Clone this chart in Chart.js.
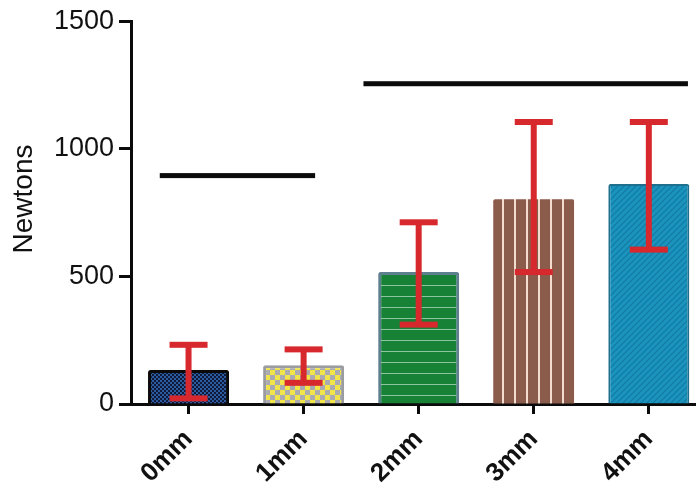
<!DOCTYPE html>
<html>
<head>
<meta charset="utf-8">
<script src="https://cdn.jsdelivr.net/npm/chart.js@4/dist/chart.umd.min.js"></script>
<style>
html,body{margin:0;padding:0;background:#fff;overflow:hidden;}
#wrap{width:696px;height:495px;position:relative;}
</style>
</head>
<body>
<div id="wrap"><canvas id="c"></canvas></div>
<script>
// ---- data ----
const categories = ['0mm', '1mm', '2mm', '3mm', '4mm'];
const meanValues = [133, 152, 517, 802, 862];
const errorLow   = [22, 83, 311, 517, 605];
const errorHigh  = [232, 214, 712, 1105, 1105];
const yTicks     = [0, 500, 1000, 1500];
const yTitle     = 'Newtons';
// significance lines: [from category, to category, height]
const sigFrom    = [-0.25, 1.52];
const sigTo      = [1.10, 4.34];
const sigHeight  = [895, 1255];

// ---- patterns ----
function makePattern(w, h, draw) {
  const c = document.createElement('canvas');
  c.width = w; c.height = h;
  const g = c.getContext('2d');
  draw(g, w, h);
  return g.createPattern(c, 'repeat');
}
const pat0 = makePattern(4, 4, (g) => {
  g.fillStyle = '#0e1a3c'; g.fillRect(0, 0, 4, 4);
  g.fillStyle = '#2c5c9e'; g.fillRect(0, 0, 2, 2); g.fillRect(2, 2, 2, 2);
});
const pat1 = makePattern(10, 10, (g) => {
  g.fillStyle = '#a9abb0'; g.fillRect(0, 0, 10, 10);
  g.fillStyle = '#f1e54a'; g.fillRect(0, 0, 5, 5); g.fillRect(5, 5, 5, 5);
});
const pat2 = makePattern(8, 11, (g) => {
  g.fillStyle = '#178236'; g.fillRect(0, 0, 8, 11);
  g.fillStyle = '#8fc4a0'; g.fillRect(0, 10, 8, 1);
});
const pat3 = makePattern(12, 8, (g) => {
  g.fillStyle = '#8b5b4b'; g.fillRect(0, 0, 12, 8);
  g.fillStyle = '#f3dccd'; g.fillRect(10, 0, 2, 8);
});
const pat4 = makePattern(6, 6, (g) => {
  g.fillStyle = '#1a93bd'; g.fillRect(0, 0, 6, 6);
  g.strokeStyle = '#137aa2'; g.lineWidth = 1.2;
  g.beginPath();
  g.moveTo(0, 6); g.lineTo(6, 0);
  g.moveTo(-3, 3); g.lineTo(3, -3);
  g.moveTo(3, 9); g.lineTo(9, 3);
  g.stroke();
});

const barFills   = [pat0, pat1, pat2, pat3, pat4];
const barBorders = ['#0a0a0a', '#9a9ca0', '#5d7f8e', '#8b5b4b', '#1f6f8f'];
const barBorderW = [3, 3, 3, 0, 2];

// ---- plugins ----
const overlayPlugin = {
  id: 'overlay',
  afterDatasetsDraw(chart) {
    const ctx = chart.ctx;
    const xs = chart.scales.x, ys = chart.scales.y;
    ctx.save();
    // error bars
    ctx.fillStyle = '#d6282d';
    const capW = 38, lw = 6;
    categories.forEach((_, i) => {
      const x = xs.getPixelForValue(i);
      const yHi = ys.getPixelForValue(errorHigh[i]);
      const yLo = ys.getPixelForValue(errorLow[i]);
      ctx.fillRect(x - lw / 2, yHi, lw, yLo - yHi);
      ctx.fillRect(x - capW / 2, yHi - lw / 2, capW, lw);
      ctx.fillRect(x - capW / 2, yLo - lw / 2, capW, lw);
    });
    // significance lines
    ctx.fillStyle = '#0b0b0b';
    sigHeight.forEach((h, k) => {
      const x0 = xs.getPixelForValue(sigFrom[k]);
      const x1 = xs.getPixelForValue(sigTo[k]);
      const y = ys.getPixelForValue(h);
      ctx.fillRect(x0, y - 2.5, x1 - x0, 5);
    });
    // y-axis title
    ctx.fillStyle = '#111';
    ctx.font = '28px "Liberation Sans", Arial, sans-serif';
    ctx.textAlign = 'center';
    ctx.textBaseline = 'middle';
    ctx.translate(24, 199);
    ctx.rotate(-Math.PI / 2);
    ctx.fillText(yTitle, 0, 0);
    ctx.restore();
  }
};

new Chart(document.getElementById('c'), {
  type: 'bar',
  data: {
    datasets: [{
      data: meanValues.map((v, i) => ({ x: i, y: v })),
      backgroundColor: barFills,
      borderColor: barBorders,
      borderWidth: barBorderW,
      borderRadius: 2,
      borderSkipped: 'start',
      barPercentage: 0.88,
      categoryPercentage: 0.8
    }]
  },
  options: {
    responsive: true,
    maintainAspectRatio: false,
    animation: false,
    layout: { padding: { top: 9, right: 0, left: 0, bottom: 0 } },
    plugins: { legend: { display: false }, tooltip: { enabled: false } },
    scales: {
      x: {
        type: 'linear',
        offset: false,
        min: -0.5,
        max: 4.41,
        afterBuildTicks(axis) { axis.ticks = categories.map((_, i) => ({ value: i })); },
        afterFit(scale) { scale.height = 91; },
        ticks: {
          callback: (v) => categories[v] ?? '',
          minRotation: 45, maxRotation: 45,
          autoSkip: false,
          color: '#111',
          padding: 10,
          font: { family: 'Liberation Sans, Arial, sans-serif', size: 26, weight: 'bold' }
        },
        grid: { display: true, offset: false, drawOnChartArea: false, drawTicks: true, tickLength: 10, tickWidth: 3, tickColor: '#0b0b0b' },
        border: { display: true, color: '#0b0b0b', width: 3 }
      },
      y: {
        min: 0, max: 1500,
        afterBuildTicks(axis) { axis.ticks = yTicks.map(v => ({ value: v })); },
        afterFit(scale) { scale.width = 131; },
        ticks: {
          callback: (v) => String(v),
          color: '#111',
          padding: 5,
          font: { family: 'Liberation Sans, Arial, sans-serif', size: 27 }
        },
        grid: { display: true, drawOnChartArea: false, drawTicks: true, tickLength: 12, tickWidth: 3, tickColor: '#0b0b0b' },
        border: { display: true, color: '#0b0b0b', width: 3 }
      }
    }
  },
  plugins: [overlayPlugin]
});
</script>
</body>
</html>
